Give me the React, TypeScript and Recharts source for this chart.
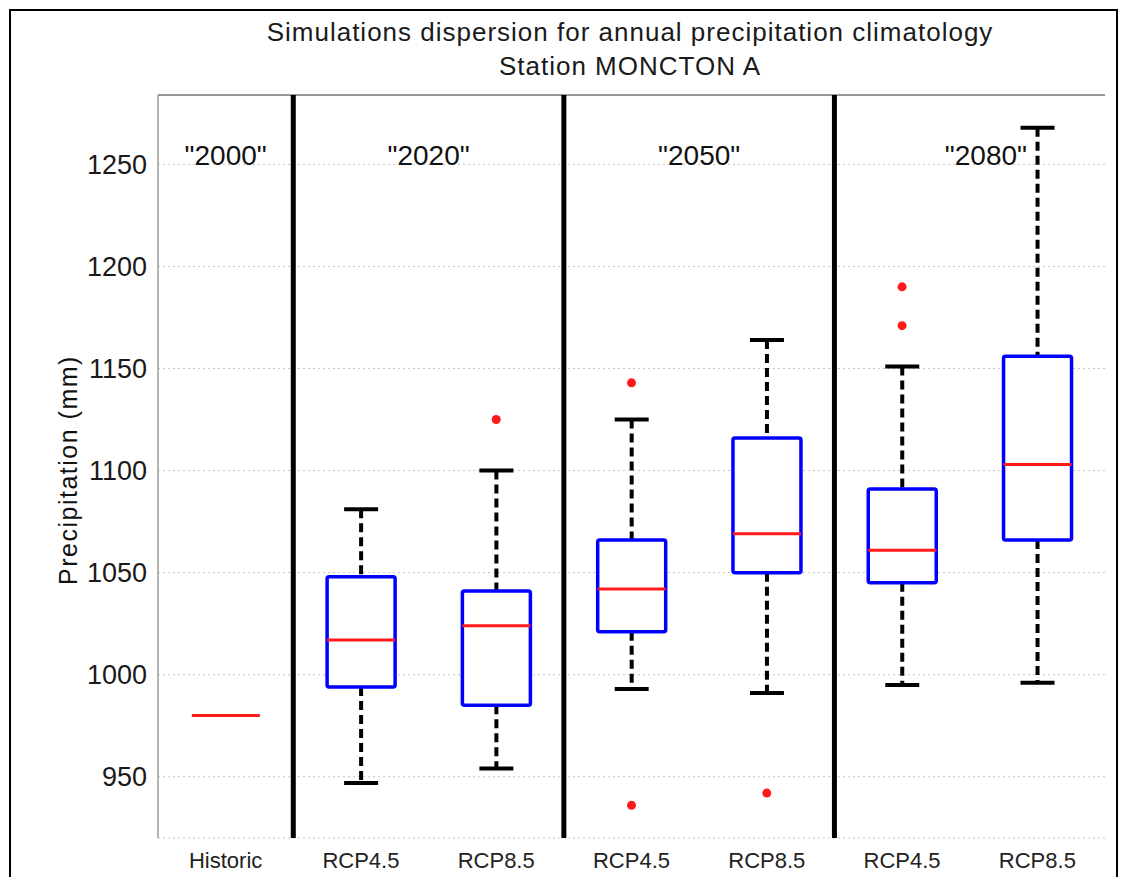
import React from 'react';
import { ComposedChart, Bar, Scatter, XAxis, YAxis, CartesianGrid, ReferenceLine } from 'recharts';

const scenarioIds = ['Historic', '2020 RCP4.5', '2020 RCP8.5', '2050 RCP4.5', '2050 RCP8.5', '2080 RCP4.5', '2080 RCP8.5'];
const tickLabels = ['Historic', 'RCP4.5', 'RCP8.5', 'RCP4.5', 'RCP8.5', 'RCP4.5', 'RCP8.5'];
const boxShown = [false, true, true, true, true, true, true];
const whiskerLow = [980, 947, 954, 993, 991, 995, 996];
const quartile1 = [980, 994, 985, 1021, 1050, 1045, 1066];
const medians = [980, 1017, 1024, 1042, 1069, 1061, 1103];
const quartile3 = [980, 1048, 1041, 1066, 1116, 1091, 1156];
const whiskerHigh = [980, 1081, 1100, 1125, 1164, 1151, 1268];

const outlierScenario = ['2020 RCP8.5', '2050 RCP4.5', '2050 RCP4.5', '2050 RCP8.5', '2080 RCP4.5', '2080 RCP4.5'];
const outlierValue = [1125, 1143, 936, 942, 1190, 1171];

const periodLabels = ['"2000"', '"2020"', '"2050"', '"2080"'];
const periodCenters = [1, 2.5, 4.5, 6.62];
const periodSeparators = [1.5, 3.5, 5.5];

const yTicks = [950, 1000, 1050, 1100, 1150, 1200, 1250];
const yDomain = [920, 1284];
const posDomain = [0.5, 7.5];

const FONT = '"Liberation Sans", Arial, Helvetica, sans-serif';

const data = scenarioIds.map((id, i) => ({
  id,
  pos: i + 1,
  range: [whiskerLow[i], whiskerHigh[i]],
  low: whiskerLow[i],
  q1: quartile1[i],
  median: medians[i],
  q3: quartile3[i],
  high: whiskerHigh[i],
  hasBox: boxShown[i],
}));

const outlierData = outlierScenario.map((id, i) => ({ id, value: outlierValue[i] }));

const BoxShape = (props: any) => {
  const { x, y, width, height, payload } = props;
  const lo = payload.low;
  const hi = payload.high;
  const ppu = hi > lo ? height / (hi - lo) : 0;
  const Y = (v: number) => y + (hi - v) * ppu;
  const cx = x + width / 2;
  if (!payload.hasBox) {
    return <line x1={x} x2={x + width} y1={y} y2={y} stroke="#ff1a1a" strokeWidth={3} />;
  }
  const capHalf = width / 4;
  const wStyle = { stroke: '#000', strokeWidth: 4, strokeDasharray: '9 5' };
  return (
    <g>
      <line x1={cx} x2={cx} y1={Y(hi)} y2={Y(payload.q3)} {...wStyle} />
      <line x1={cx} x2={cx} y1={Y(payload.q1)} y2={Y(lo)} {...wStyle} />
      <line x1={cx - capHalf} x2={cx + capHalf} y1={Y(hi)} y2={Y(hi)} stroke="#000" strokeWidth={4} />
      <line x1={cx - capHalf} x2={cx + capHalf} y1={Y(lo)} y2={Y(lo)} stroke="#000" strokeWidth={4} />
      <rect
        x={x}
        y={Y(payload.q3)}
        width={width}
        height={Y(payload.q1) - Y(payload.q3)}
        fill="#fff"
        stroke="#0000ff"
        strokeWidth={3.5}
        rx={2}
      />
      <line x1={x} x2={x + width} y1={Y(payload.median)} y2={Y(payload.median)} stroke="#ff1a1a" strokeWidth={3} />
    </g>
  );
};

const OutlierDot = (props: any) => {
  const { cx, cy } = props;
  if (cx == null || cy == null) return <g />;
  return <circle cx={cx} cy={cy} r={4.5} fill="#ff1a1a" />;
};

export default function App() {
  return (
    <div style={{ position: 'absolute', left: 0, top: 0, width: 1126, height: 877, overflow: 'hidden', background: '#fff' }}>
      <div
        style={{
          position: 'absolute',
          left: 9,
          top: 9,
          width: 1109,
          height: 900,
          border: '2px solid #000',
          boxSizing: 'border-box',
        }}
      />
      <div
        style={{
          position: 'absolute',
          left: 130,
          width: 1000,
          top: 15,
          textAlign: 'center',
          fontFamily: FONT,
          fontSize: 26,
          lineHeight: '34px',
          letterSpacing: 1,
          color: '#1a1a1a',
        }}
      >
        <div>Simulations dispersion for annual precipitation climatology</div>
        <div>Station MONCTON A</div>
      </div>
      <div
        style={{
          position: 'absolute',
          left: 68 - 200,
          top: 470 - 15,
          width: 400,
          height: 30,
          lineHeight: '30px',
          textAlign: 'center',
          transform: 'rotate(-90deg)',
          fontFamily: FONT,
          fontSize: 25,
          letterSpacing: 1.5,
          color: '#111',
        }}
      >
        Precipitation (mm)
      </div>
      <div style={{ position: 'absolute', left: 0, top: 0 }}>
        <ComposedChart
          width={1126}
          height={877}
          data={data}
          margin={{ top: 95, right: 21, left: 0, bottom: 0 }}
          barCategoryGap="25%"
        >
          <CartesianGrid vertical={false} stroke="#c4c4c4" strokeDasharray="2 3" />
          <XAxis
            dataKey="id"
            type="category"
            allowDuplicatedCategory={false}
            interval={0}
            axisLine={false}
            tickLine={false}
            tickSize={0}
            tickMargin={14}
            height={39}
            tickFormatter={(v: string) => tickLabels[scenarioIds.indexOf(v)]}
            tick={{ fontSize: 22, fill: '#222', fontFamily: FONT }}
          />
          <XAxis xAxisId="pos" dataKey="pos" type="number" domain={posDomain} allowDataOverflow hide />
          <YAxis
            type="number"
            width={158}
            domain={yDomain}
            ticks={yTicks}
            allowDataOverflow
            axisLine={{ stroke: '#9a9a9a', strokeWidth: 1.5 }}
            tickLine={false}
            tickMargin={5}
            tick={{ fontSize: 27, fill: '#1a1a1a', fontFamily: FONT }}
          />
          <ReferenceLine y={yDomain[1]} stroke="#9a9a9a" strokeWidth={2} />
          {periodSeparators.map((s) => (
            <ReferenceLine key={'sep' + s} xAxisId="pos" x={s} stroke="#000" strokeWidth={5} />
          ))}
          {periodCenters.map((c, i) => (
            <ReferenceLine
              key={'lab' + c}
              xAxisId="pos"
              x={c}
              stroke="none"
              label={{ value: periodLabels[i], position: 'insideTop', offset: 50, fontSize: 28, fill: '#111', fontFamily: FONT }}
            />
          ))}
          <Bar dataKey="range" shape={BoxShape} isAnimationActive={false} />
          <Scatter data={outlierData} dataKey="value" shape={OutlierDot} isAnimationActive={false} />
        </ComposedChart>
      </div>
    </div>
  );
}
